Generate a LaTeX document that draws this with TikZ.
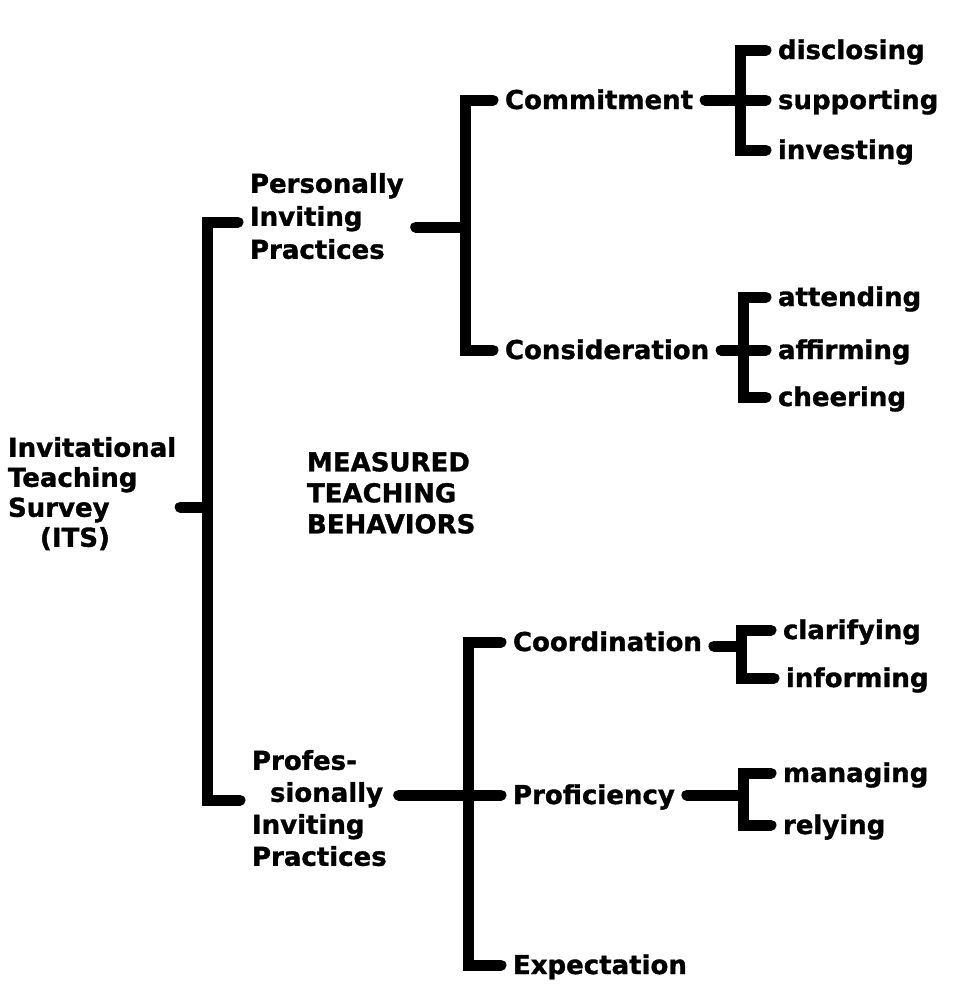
\documentclass[tikz,border=0pt]{standalone}
\usepackage{fontspec}
\setmainfont{DejaVu Sans}[BoldFeatures={FakeBold=1.2}]

\begin{document}
\begin{tikzpicture}[x=0.5pt, y=-0.5pt,
    lbl/.style={anchor=west, inner sep=0pt, outer xsep=6pt, outer ysep=0pt,
                text height=9pt, text depth=0pt,
                font=\fontsize{13pt}{16pt}\selectfont\bfseries},
    blk/.style={anchor=north west, inner sep=0pt, outer xsep=6pt, outer ysep=0pt,
                align=left, font=\fontsize{13pt}{16pt}\selectfont\bfseries},
    bar/.style={line width=5.5pt, line cap=round, line join=miter}
  ]
  \useasboundingbox (0,0) rectangle (956,986);

  % left column
  \node[blk, outer xsep=2pt, font=\fontsize{13pt}{15pt}\selectfont\bfseries]
        (its)  at (4,437)   {Invitational\\Teaching\\Survey\\\hspace*{16pt}(ITS)};
  \node[blk, font=\fontsize{13pt}{16.5pt}\selectfont\bfseries]
        (pers) at (238,173) {Personally\\Inviting\\Practices};
  \node[blk] (prof) at (240,750) {Profes-\\\hspace*{9pt}sionally\\Inviting\\Practices};
  \node[blk, font=\fontsize{13pt}{15.5pt}\selectfont\bfseries]
        (meas) at (295,452) {MEASURED\\TEACHING\\BEHAVIORS};

  % middle column
  \node[lbl] (cmt) at (493,100) {Commitment};
  \node[lbl] (csd) at (493,350) {Consideration};
  \node[lbl] (crd) at (501,642) {Coordination};
  \node[lbl] (prf) at (501,795) {Proficiency};
  \node[lbl] (exp) at (501,965) {Expectation};

  % right column
  \foreach \n/\x/\y/\w in {dis/766/50/disclosing, sup/766/100/supporting,
      inv/766/150/investing, att/766/297/attending, aff/766/350/affirming,
      chr/766/397/cheering, cla/771/630/clarifying, infm/774/678/informing,
      mng/771/773/managing, rly/771/825/relying}{
    \node[lbl] (\n) at (\x,\y) {\w};
  }

  \coordinate (sp-top) at (207,222);
  \coordinate (sp)     at (207,507);
  \coordinate (sp-bot) at (207,800);
  \coordinate (sp2)    at (465,227);
  \coordinate (sp3)    at (468,795);
  \coordinate (c1)     at (740,100);
  \coordinate (c2)     at (743,350);
  \coordinate (c3)     at (741,646);
  \coordinate (c4)     at (743,795);

  \draw[bar] (its.east |- sp) -- (sp);
  \draw[bar] (pers.west |- sp-top) -| (sp) |- (prof.west |- sp-bot);

  \draw[bar] (pers.east |- sp2) -- (sp2);
  \draw[bar] (cmt.west) -| (sp2) |- (csd.west);
  \draw[bar] (prof.east |- sp3) -- (prf.west);
  \draw[bar] (crd.west) -| (sp3) |- (exp.west);

  \draw[bar] (cmt.east) -- (sup.west);
  \draw[bar] (dis.west) -| (c1) |- (inv.west);
  \draw[bar] (csd.east) -- (aff.west);
  \draw[bar] (att.west) -| (c2) |- (chr.west);
  \draw[bar] (crd.east |- c3) -- (c3);
  \draw[bar] (cla.west) -| (c3) |- (infm.west);
  \draw[bar] (prf.east) -- (c4);
  \draw[bar] (mng.west) -| (c4) |- (rly.west);
\end{tikzpicture}
\end{document}
